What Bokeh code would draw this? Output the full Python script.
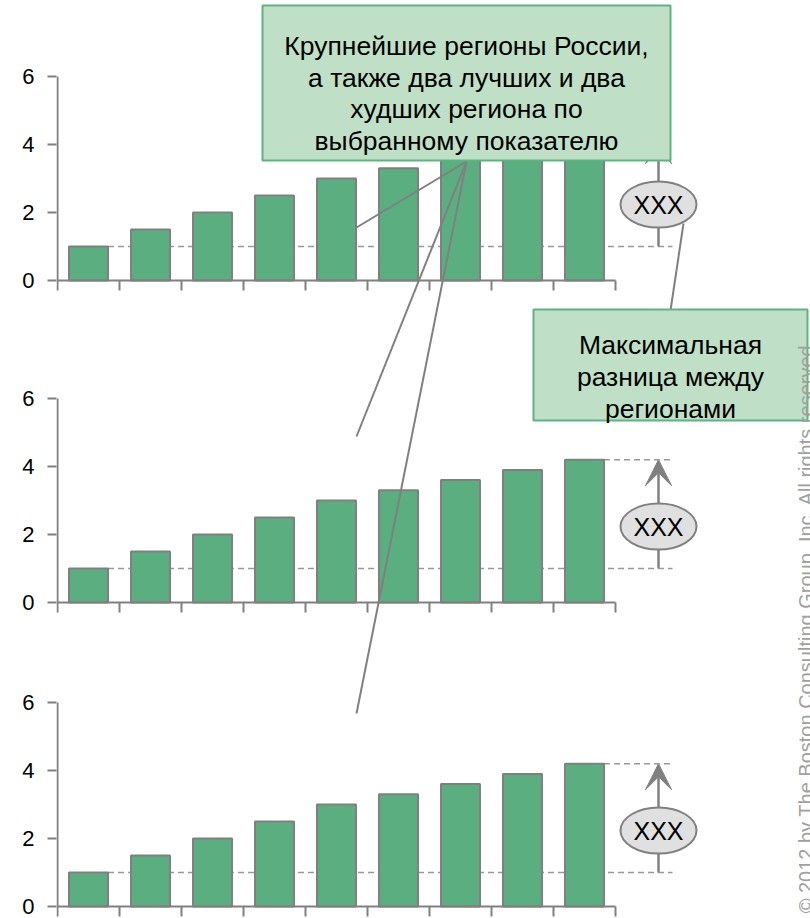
import numpy as np
from bokeh.plotting import figure
from bokeh.models import Range1d, FixedTicker, BoxAnnotation, Label, Arrow, VeeHead
from bokeh.core.properties import value
from bokeh.embed import file_html
from bokeh.resources import INLINE

# ---------------- data ----------------
region_index = list(range(9))
top_values = [1.0, 1.5, 2.0, 2.5, 3.0, 3.3, 3.6, 3.9, 4.2]
middle_values = [1.0, 1.5, 2.0, 2.5, 3.0, 3.3, 3.6, 3.9, 4.2]
bottom_values = [1.0, 1.5, 2.0, 2.5, 3.0, 3.3, 3.6, 3.9, 4.2]
y_ticks = [0, 2, 4, 6]
y_tick_labels = ["0", "2", "4", "6"]
diff_label = "XXX"
callout_main = ["Крупнейшие регионы России,", "а также два лучших и два",
                "худших региона по", "выбранному показателю"]
callout_diff = ["Максимальная", "разница между", "регионами"]
copyright_text = "Copyright © 2012 by The Boston Consulting Group, Inc. All rights reserved."

# ---------------- layout helpers (reference pixels -> data units) ----------------
PX_X0, PX_PER_X = 57.0, 62.0
PX_Y0, PX_PER_Y = 906.0, 34.0


def dx(px):
    return (px - PX_X0) / PX_PER_X


def dy(py):
    return (PX_Y0 - py) / PX_PER_Y


FONT = "Liberation Sans"
GRAY = "#808080"
BAR_FILL = "#5aae80"
BOX_FILL = "#bfe0c6"
BOX_LINE = "#5fb381"

panel_values = [top_values, middle_values, bottom_values]
panel_offsets = [round(dy(280), 4), round(dy(602), 4), 0.0]

p = figure(width=810, height=918, output_backend="svg", toolbar_location=None,
           x_range=Range1d(dx(56), dx(810)), y_range=Range1d(dy(918), dy(0)),
           min_border_left=56, min_border_right=0, min_border_top=0, min_border_bottom=0)
p.outline_line_color = None
p.grid.visible = False
p.xaxis.visible = False
p.background_fill_color = "white"

# y axis: one real axis, ticks for every panel
ticks, overrides = [], {}
for off in panel_offsets:
    for t, lab in zip(y_ticks, y_tick_labels):
        v = round(off + t, 4)
        ticks.append(v)
        overrides[v] = lab
p.yaxis.ticker = FixedTicker(ticks=ticks)
p.yaxis.major_label_overrides = overrides
p.yaxis.axis_line_color = None
p.yaxis.major_tick_line_color = GRAY
p.yaxis.major_tick_line_width = 2
p.yaxis.major_tick_out = 9
p.yaxis.major_tick_in = 0
p.yaxis.minor_tick_line_color = None
p.yaxis.major_label_standoff = 13
p.yaxis.major_label_text_font = FONT
p.yaxis.major_label_text_font_size = "22px"
p.yaxis.major_label_text_color = "black"

n = len(region_index)
xs = np.array(region_index) + 0.5
bar_w = 0.63
arrow_x = dx(658)
dash_end = dx(672)

for k, (vals, off) in enumerate(zip(panel_values, panel_offsets)):
    vals = np.array(vals)
    vmin, vmax = vals.min(), vals.max()
    # dashed reference lines (behind bars)
    p.segment(x0=[xs[int(np.argmin(vals))] + bar_w / 2, xs[int(np.argmax(vals))] + bar_w / 2],
              x1=[dash_end, dash_end], y0=[off + vmin, off + vmax], y1=[off + vmin, off + vmax],
              line_color="#999999", line_width=1.5, line_dash="6 4")
    # bars
    p.vbar(x=xs, width=bar_w, bottom=off, top=vals + off, fill_color=BAR_FILL,
           line_color=GRAY, line_width=2)
    # y axis line for this panel
    p.segment(x0=[0], x1=[0], y0=[off + y_ticks[0]], y1=[off + y_ticks[-1]],
              line_color=GRAY, line_width=2)
    # x axis line + category ticks
    p.segment(x0=[0], x1=[n], y0=[off], y1=[off], line_color=GRAY, line_width=2)
    tx = np.arange(n + 1)
    p.segment(x0=tx, x1=tx, y0=[off] * (n + 1), y1=[off - 10 / PX_PER_Y] * (n + 1),
              line_color=GRAY, line_width=2)
    # arrow min -> max
    p.add_layout(Arrow(end=VeeHead(size=26, fill_color=GRAY, line_color=GRAY),
                       x_start=arrow_x, y_start=off + vmin, x_end=arrow_x, y_end=off + vmax,
                       line_color=GRAY, line_width=2.5, level="underlay"))
    # ellipse with label
    ey = off + 2.235
    p.ellipse(x=[arrow_x], y=[ey], width=76 / PX_PER_X, height=46 / PX_PER_Y,
              fill_color="#e0e0e0", line_color=GRAY, line_width=2)
    p.text(x=[arrow_x], y=[ey], text=[diff_label], text_align="center", text_baseline="middle",
           text_font=value(FONT), text_font_size="25px", text_color="black")

# callout lines
sx, sy = dx(466), dy(161)
ends = [(356, 227), (356, 436), (356, 713)]
p.segment(x0=[sx] * 3, y0=[sy] * 3, x1=[dx(e[0]) for e in ends], y1=[dy(e[1]) for e in ends],
          line_color=GRAY, line_width=2)
p.segment(x0=[dx(683)], y0=[dy(223)], x1=[dx(670)], y1=[dy(310)], line_color=GRAY, line_width=2)

# callout boxes
p.add_layout(BoxAnnotation(left=dx(262), right=dx(670), top=dy(5), bottom=dy(160),
                           fill_color=BOX_FILL, fill_alpha=1, line_color=BOX_LINE,
                           line_width=2, line_alpha=1))
for line, base in zip(callout_main, [45, 77, 108, 140]):
    p.add_layout(Label(x=dx(466), y=dy(base), text=line, text_align="center",
                       text_baseline="alphabetic", text_font=FONT, text_font_size="26.5px",
                       text_color="black"))

p.add_layout(BoxAnnotation(left=dx(533), right=dx(807), top=dy(309), bottom=dy(420),
                           fill_color=BOX_FILL, fill_alpha=1, line_color=BOX_LINE,
                           line_width=2, line_alpha=1))
for line, base in zip(callout_diff, [344, 376, 408]):
    p.add_layout(Label(x=dx(670), y=dy(base), text=line, text_align="center",
                       text_baseline="alphabetic", text_font=FONT, text_font_size="26.5px",
                       text_color="black"))

# copyright (vertical)
p.add_layout(Label(x=dx(805), y=dy(1004), text=copyright_text, angle=np.pi / 2,
                   text_align="left", text_baseline="alphabetic", text_font=FONT,
                   text_font_size="20px", text_color="#a0a0a0"))

open("out.html", "w").write(file_html(p, INLINE))
